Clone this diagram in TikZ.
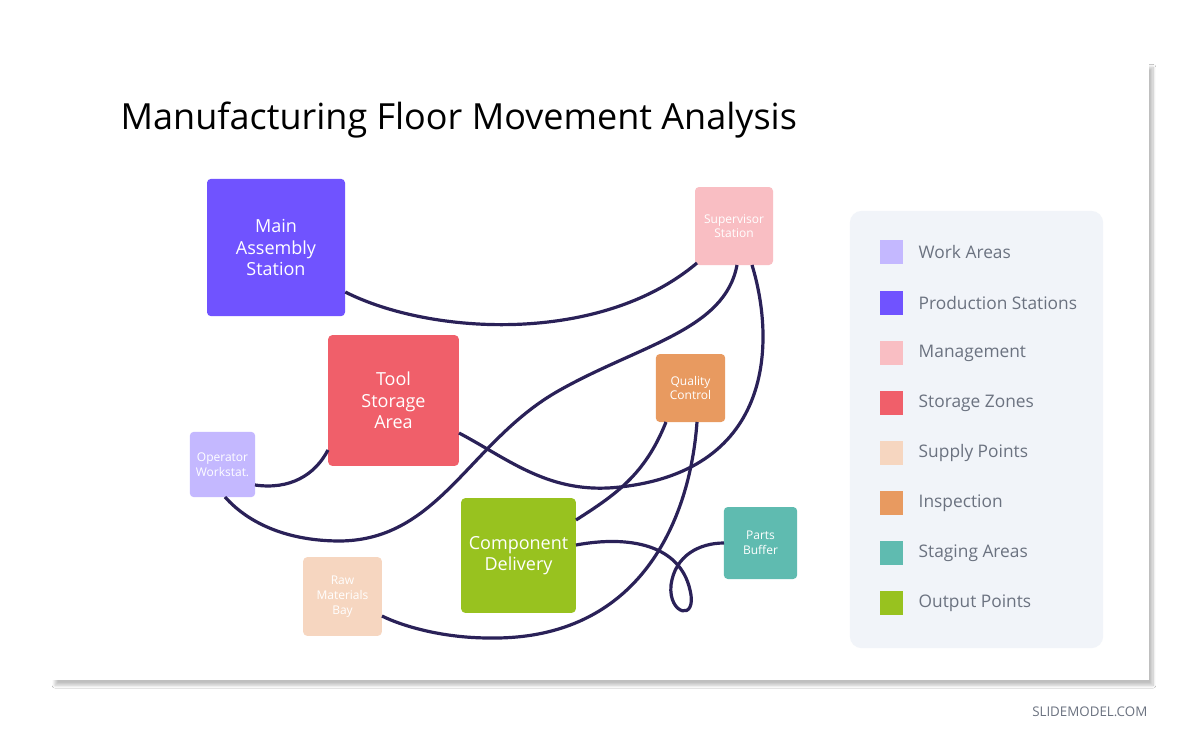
\documentclass[tikz,border=0pt]{standalone}
\usepackage{fontspec}
\setmainfont{Open Sans}
\usetikzlibrary{shadows.blur}
\definecolor{cMain}{HTML}{7053FF}
\definecolor{cSup}{HTML}{F9BEC3}
\definecolor{cTool}{HTML}{F05F6A}
\definecolor{cQual}{HTML}{E89A60}
\definecolor{cOp}{HTML}{C4B8FF}
\definecolor{cComp}{HTML}{98C21F}
\definecolor{cBuf}{HTML}{5FBBB0}
\definecolor{cRaw}{HTML}{F6D6C0}
\definecolor{cLine}{HTML}{2A2158}
\definecolor{cPanel}{HTML}{F1F4F9}
\definecolor{cGray}{HTML}{6B7280}
\begin{document}
\begin{tikzpicture}[x=0.75pt,y=-0.75pt,
  box/.style={rounded corners=3pt,inner sep=0pt,align=center,text=white},
  conn/.style={draw=cLine,line width=2.4pt},
  leg/.style={minimum size=17.5pt,inner sep=0pt},
  legt/.style={anchor=west,text=cGray,font=\fontsize{13}{15}\selectfont}]
\useasboundingbox (0,0) rectangle (1200,743);
\fill[white] (0,0) rectangle (1200,743);
\node[fill=white,minimum width=823.5pt,minimum height=463.5pt,inner sep=0pt,blur shadow={shadow blur steps=10,shadow xshift=3pt,shadow yshift=-4pt,shadow opacity=25}] (card) at (600,371) {};
\node[anchor=west,font=\fontsize{27}{32}\selectfont] (title) at (116,120) {Manufacturing Floor Movement Analysis};
\node[anchor=east,text=cGray,font=\fontsize{10}{12}\selectfont] (sm) at (1152,712) {SLIDEMODEL.COM};
% nodes
\node[box,fill=cMain,minimum width=103.5pt,minimum height=103pt,font=\fontsize{13.5}{16}\selectfont] (main) at (276,247.5) {Main\\Assembly\\Station};
\node[box,fill=cSup,minimum width=58.5pt,minimum height=58.5pt,font=\fontsize{9}{11}\selectfont] (sup) at (734,226) {Supervisor\\Station};
\node[box,fill=cTool,minimum width=98pt,minimum height=98pt,font=\fontsize{13.5}{16}\selectfont] (tool) at (393.5,400.5) {Tool\\Storage\\Area};
\node[box,fill=cQual,minimum width=52pt,minimum height=51pt,font=\fontsize{9}{11}\selectfont] (qual) at (690.5,388) {Quality\\Control};
\node[box,fill=cOp,minimum width=49pt,minimum height=49pt,font=\fontsize{9}{11}\selectfont] (op) at (222.5,464.5) {Operator\\Workstat.};
\node[box,fill=cComp,minimum width=86pt,minimum height=86pt,font=\fontsize{13.5}{16}\selectfont] (comp) at (518.5,555.5) {Component\\Delivery};
\node[box,fill=cBuf,minimum width=55pt,minimum height=54pt,font=\fontsize{9}{11}\selectfont] (buf) at (760.5,543) {Parts\\Buffer};
\node[box,fill=cRaw,minimum width=59pt,minimum height=59pt,font=\fontsize{9}{11}\selectfont] (raw) at (342.5,596.5) {Raw\\Materials\\Bay};
% connectors
\coordinate (m1) at (main.east|-0,292);
\coordinate (s1) at (697,263);
\draw[conn] (m1) .. controls (430,335) and (600,345) .. (s1);
\coordinate (s2) at (737,265);
\coordinate (o2) at (225,497);
\draw[conn] (s2) .. controls (725,330) and (640,345) .. (560,390)
  .. controls (470,440) and (440,540) .. (340,541)
  .. controls (290,541) and (250,525) .. (o2);
\coordinate (s3) at (752,265);
\coordinate (t3) at (459,433);
\draw[conn] (s3) .. controls (775,340) and (775,470) .. (620,487)
  .. controls (550,495) and (510,460) .. (t3);
\coordinate (o4) at (255,485);
\coordinate (t4) at (328,450);
\draw[conn] (o4) .. controls (290,490) and (315,475) .. (t4);
\coordinate (q5) at (666,422);
\coordinate (c5) at (576,520);
\draw[conn] (q5) .. controls (645,475) and (615,495) .. (c5);
\coordinate (q6) at (697,422);
\coordinate (r6) at (382,616);
\draw[conn] (q6) .. controls (690,520) and (640,640) .. (490,638)
  .. controls (440,638) and (400,625) .. (r6);
\coordinate (c7) at (576,545);
\coordinate (b7) at (724,543);
\draw[conn] (c7) .. controls (630,535) and (680,545) .. (690,590)
  .. controls (698,622) and (668,615) .. (671,585)
  .. controls (675,555) and (700,543) .. (b7);
% legend
\node[fill=cPanel,rounded corners=9pt,minimum width=190pt,minimum height=328pt,inner sep=0pt] (panel) at (976.5,429.5) {};
\foreach \c/\t/\y [count=\i] in {cOp/Work Areas/252,cMain/Production Stations/303,cSup/Management/353,cTool/Storage Zones/403,cRaw/Supply Points/453,cQual/Inspection/503,cBuf/Staging Areas/553,cComp/Output Points/603}{
  \node[leg,fill=\c] (l\i) at (891.5,\y) {};
  \node[legt] (lt\i) at (914,\y) {\t};
}
\end{tikzpicture}
\end{document}
